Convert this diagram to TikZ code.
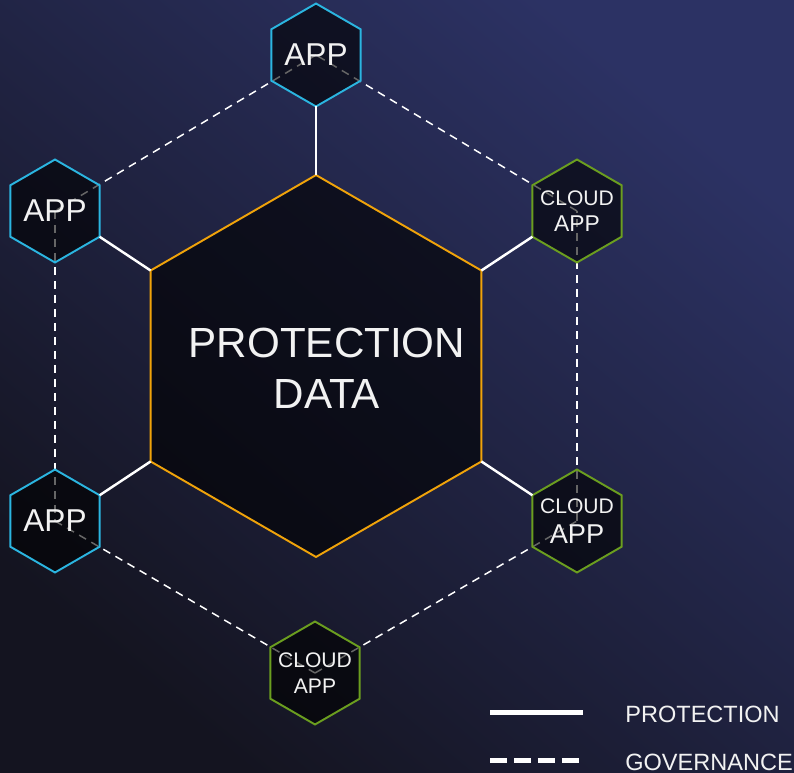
\documentclass[tikz,border=0pt]{standalone}
\usepackage{fontspec}
\setmainfont{Liberation Sans}
\usetikzlibrary{shapes.geometric, positioning}
\definecolor{bgdark}{RGB}{20,20,32}
\definecolor{bgmid}{RGB}{24,24,72}
\definecolor{bglight}{RGB}{44,50,100}
\definecolor{appblue}{RGB}{43,181,224}
\definecolor{cloudgreen}{RGB}{107,158,31}
\definecolor{dataorange}{RGB}{240,163,10}
\definecolor{txtwhite}{RGB}{242,242,242}
\pgfdeclarelayer{back}
\pgfsetlayers{back,main}

\tikzset{
  hexbox/.style={regular polygon, regular polygon sides=6, shape border rotate=30,
    inner sep=0pt, outer sep=0pt, fill=black, fill opacity=0.6, line width=1.1pt},
  apphex/.style={hexbox, draw=appblue, minimum size=2.06cm},
  cloudhex/.style={hexbox, draw=cloudgreen, minimum size=2.06cm},
  hextxt/.style={inner sep=0pt, text=txtwhite, align=center},
  apptxt/.style={hextxt, font=\fontsize{18}{21}\selectfont},
  cloudtxt/.style={hextxt, font=\fontsize{12}{15}\selectfont},
  protline/.style={white, line width=1.4pt},
  govline/.style={white, line width=0.85pt, dash pattern=on 0.16cm off 0.12cm},
  legendtxt/.style={anchor=west, inner sep=0pt, text=txtwhite, font=\fontsize{13.4}{16}\selectfont}
}

\begin{document}
\begin{tikzpicture}[x=0.02cm, y=-0.02cm]
% Background
\begin{pgfonlayer}{back}
\fill[bottom color=bgdark, middle color=bgmid, top color=bglight, shading angle=-40]
  (0,0) rectangle (794,773);
\end{pgfonlayer}
\useasboundingbox (0,0) rectangle (794,773);

% Core
\node[hexbox, draw=dataorange, minimum size=7.64cm] (data) at (316,366) {};
\node[hextxt, font=\fontsize{24}{29}\selectfont] (datalbl) at (327,368) {PROTECTION\\DATA};

% Apps
\node[apphex] (apptop) at (316,55) {};
\node[apphex] (appul) at (55,211) {};
\node[apphex] (appll) at (55,521) {};

% Cloud apps
\node[cloudhex] (cloudur) at (577,211) {};
\node[cloudhex] (cloudlr) at (577,521) {};
\node[cloudhex] (cloudbot) at (315,673) {};

% Governance (behind the hexagons)
\begin{pgfonlayer}{back}
\draw[govline] (apptop.center) -- (appul.center);
\draw[govline] (appul.center) -- (appll.center);
\draw[govline] (appll.center) -- (cloudbot.center);
\draw[govline] (cloudbot.center) -- (cloudlr.center);
\draw[govline] (cloudlr.center) -- (cloudur.center);
\draw[govline] (cloudur.center) -- (apptop.center);
\end{pgfonlayer}

% Labels
\node[apptxt] (apptoplbl) at (apptop) {APP};
\node[apptxt] (appullbl) at (appul) {APP};
\node[apptxt] (appllbl) at (appll) {APP};
\node[cloudtxt] (cloudurlbl) at (cloudur) {CLOUD\\{\fontsize{13}{15}\selectfont APP}};
\node[cloudtxt] (cloudlrlbl) at (cloudlr) {CLOUD\\[2pt]{\fontsize{15.5}{17}\selectfont APP}};
\node[cloudtxt] (cloudbotlbl) at (cloudbot) {CLOUD\\APP};

% Protection
\draw[protline] (data.90) -- (apptop.-90);
\draw[protline] (data.150) -- (appul.-30);
\draw[protline] (data.210) -- (appll.30);
\draw[protline] (data.30) -- (cloudur.210);
\draw[protline] (data.-30) -- (cloudlr.150);

% Legend
\coordinate (protA) at (490,712);
\coordinate (protB) at (583,712);
\draw[white, line width=0.1cm] (protA) -- (protB);
\node[legendtxt] (protlbl) at (625,714) {PROTECTION};
\coordinate (govA) at (490,760);
\coordinate (govB) at (580,760);
\draw[white, line width=0.1cm, dash pattern=on 0.34cm off 0.14cm] (govA) -- (govB);
\node[legendtxt] (govlbl) at (625,762) {GOVERNANCE};
\end{tikzpicture}
\end{document}
